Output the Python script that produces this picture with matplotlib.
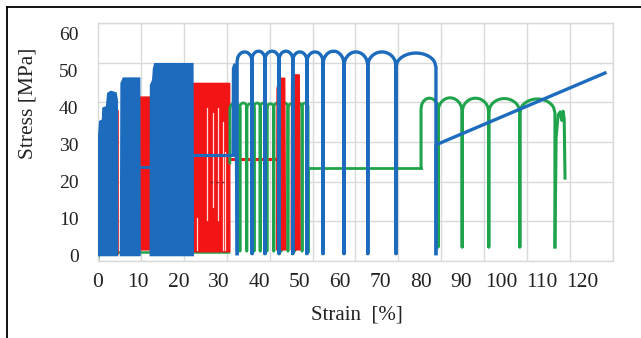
import numpy as np
import matplotlib
matplotlib.use("Agg")
import matplotlib.pyplot as plt
from matplotlib.lines import Line2D

# ---------------- data (strain %, stress MPa) ----------------
x_tick_values = [0, 10, 20, 30, 40, 50, 60, 70, 80, 90, 100, 110, 120]
y_tick_values = [0, 10, 20, 30, 40, 50, 60]

# dense cyclic blocks (outlines)
blue_block1_x = [0.0, 0.05, 0.45, 1.15, 1.25, 2.15, 2.45, 3.2, 4.45, 4.75, 4.8]
blue_block1_y = [0.0, 30.0, 36.2, 36.6, 39.8, 40.2, 43.8, 44.3, 43.9, 42.0, 0.0]
blue_block2_x = [5.6, 5.75, 6.3, 10.3, 10.4]
blue_block2_y = [0.0, 46.5, 47.9, 47.9, 0.0]
blue_block3_x = [13.0, 13.05, 13.6, 13.8, 14.1, 23.5, 23.6]
blue_block3_y = [0.0, 46.0, 47.4, 50.5, 51.8, 51.8, 0.0]

red_block1_x = [10.4, 10.45, 13.05, 13.1]
red_block1_y = [1.5, 42.8, 42.8, 1.5]
red_block2_x = [23.6, 23.65, 32.65, 32.7]
red_block2_y = [1.0, 46.5, 46.5, 1.0]
red_spike1_x = [44.3, 44.4, 44.9, 46.3, 46.5]
red_spike1_y = [1.5, 45.0, 47.9, 47.9, 1.5]
red_spike2_x = [47.9, 48.0, 48.5, 49.9, 50.1]
red_spike2_y = [1.5, 46.0, 48.8, 48.8, 1.5]
red_gap_x = [24.5, 27.0, 28.4, 29.7, 30.9, 31.5]
red_gap_bottom = [1.5, 9.6, 13.0, 9.6, 1.5, 1.5]
red_gap_top = [10.0, 39.8, 38.5, 39.8, 36.0, 28.0]
red_thin_x = [5.0, 5.0]
red_thin_y = [0.5, 39.0]
red_level_x = [32.7, 43.9]
red_level_y = [26.2, 26.2]
red_dark_x = [27.8, 31.3]
red_dark_y = [19.9, 19.9]

# blue connectors and large loops
blue_link1_x = [10.4, 13.1]
blue_link1_y = [23.9, 23.9]
blue_link2_x = [23.6, 33.5]
blue_link2_y = [27.2, 27.2]
blue_stub_x = [33.5, 33.6, 33.9, 34.2, 34.5]
blue_stub_y = [27.2, 50.5, 51.5, 50.0, 0.5]
blue_valleys = [34.5, 38.2, 41.4, 44.9, 48.3, 51.8, 55.8, 61.0, 66.9, 73.9, 83.8]
blue_peaks = [55.0, 55.2, 55.2, 55.2, 55.0, 55.0, 55.2, 55.0, 55.0, 54.7]
blue_valley_level = 0.5
blue_tail_x = [83.8, 83.8, 125.7]
blue_tail_y = [0.5, 29.9, 49.3]

# green series
green_base_x = [0.0, 0.3, 32.5]
green_base_y = [-1.3, 0.8, 0.8]
green_dense_valleys = [32.7, 35.2, 36.9, 38.7, 40.2, 41.9, 43.6, 45.4, 47.1, 48.8, 50.6, 52.1]
green_dense_peaks = [41.2, 41.2, 41.0, 41.2, 41.2, 41.0, 41.2, 41.2, 41.0, 41.2, 41.2]
green_dense_start_level = 25.0
green_dense_valley_level = 1.2
green_level_x = [52.1, 52.1, 80.1]
green_level_y = [1.2, 23.6, 23.6]
green_valleys = [80.1, 84.3, 90.3, 96.9, 104.6, 113.3]
green_peaks = [42.5, 42.6, 42.5, 42.4, 42.3]
green_start_level = 23.6
green_valley_level = 2.3
green_end_x = [113.3, 113.6, 114.1, 114.6, 115.0, 115.3, 115.6, 115.8]
green_end_y = [2.3, 32.0, 38.0, 38.8, 36.5, 39.0, 37.0, 20.9]

# ---------------- styling ----------------
BLUE = "#1c6bbd"
RED = "#f31515"
GREEN = "#1fa34b"
GRIDC = "#d9d9d9"
SERIF = ["Liberation Serif", "DejaVu Serif"]
PX_PER_X = 4.033   # screen pixels per strain unit
PX_PER_Y = 3.7     # screen pixels per stress unit


def loops(valleys, peaks, base, first_base=None, n=31):
    """Inverted-U loops between successive valleys (vertical sides, rounded top)."""
    xs, ys = [], []
    t = np.linspace(0.0, 1.0, n)
    for i in range(len(valleys) - 1):
        x0, x1 = valleys[i], valleys[i + 1]
        b0 = first_base if (i == 0 and first_base is not None) else base
        half_px = 0.5 * (x1 - x0) * PX_PER_X
        depth = min(1.25 * half_px, 14.0) / PX_PER_Y
        arc = peaks[i] - depth + depth * np.sqrt(np.clip(1 - (2 * t - 1) ** 2, 0, 1))
        xs.extend([x0] + list(x0 + t * (x1 - x0)) + [x1])
        ys.extend([b0] + list(arc) + [base])
    return xs, ys


fig = plt.figure(figsize=(6.41, 3.38), dpi=100)
ax = fig.add_axes([98 / 641, 1 - 261 / 338, 515 / 641, 238 / 338])
ax.set_xlim(0, 127.7)
ax.set_ylim(-1.5, 62.8)

# grid (drawn at the picture's own grid spacing)
ax.set_xticks(np.arange(13) * 10.64, minor=True)
ax.set_yticks(-1.5 + np.arange(7) * 10.72, minor=True)
ax.grid(which="minor", color=GRIDC, lw=1.0, zorder=0)
ax.grid(which="major", visible=False)
ax.set_axisbelow(True)
for s in ax.spines.values():
    s.set_color(GRIDC)
    s.set_linewidth(1.0)

ax.set_xticks(x_tick_values)
ax.set_xticklabels([str(v) for v in x_tick_values], family=SERIF, fontsize=15.5)
ax.set_yticks(y_tick_values)
ax.set_yticklabels([str(v) for v in y_tick_values], family=SERIF, fontsize=14)
ax.tick_params(which="both", length=0)
ax.tick_params(axis="x", pad=8.5, colors="#222222")
ax.tick_params(axis="y", pad=14, colors="#222222")

# green baseline (mostly hidden)
ax.plot(green_base_x, green_base_y, color=GREEN, lw=1.8, zorder=1.5)

# red blocks
for bx, by in [(red_block1_x, red_block1_y), (red_block2_x, red_block2_y)]:
    ax.fill(bx, by, facecolor=RED, edgecolor=RED, lw=1.0, zorder=2)
for gx, gb, gt in zip(red_gap_x, red_gap_bottom, red_gap_top):
    ax.plot([gx, gx], [gb, gt], color="white", lw=0.9, alpha=0.85, zorder=2.1)
ax.plot(red_dark_x, red_dark_y, color="#8a2020", lw=1.0, ls=(0, (2, 2)), zorder=2.2)
ax.plot(red_thin_x, red_thin_y, color=RED, lw=1.2, zorder=2)
ax.plot(red_level_x, red_level_y, color=RED, lw=2.2, zorder=2)

# green dense cycles + level + large loops
gx, gy = loops(green_dense_valleys, green_dense_peaks, green_dense_valley_level,
               first_base=green_dense_start_level)
ax.plot(gx, gy, color=GREEN, lw=2.0, zorder=3)
ax.plot(green_level_x, green_level_y, color=GREEN, lw=2.0, zorder=3)
gx2, gy2 = loops(green_valleys, green_peaks, green_valley_level,
                 first_base=green_start_level)
ax.plot(gx2, gy2, color=GREEN, lw=2.2, zorder=3)
ax.plot(green_end_x, green_end_y, color=GREEN, lw=2.2, zorder=3)

# red spikes over green
for bx, by in [(red_spike1_x, red_spike1_y), (red_spike2_x, red_spike2_y)]:
    ax.fill(bx, by, facecolor=RED, edgecolor=RED, lw=1.0, zorder=3.5)

# blue
for bx, by in [(blue_block1_x, blue_block1_y), (blue_block2_x, blue_block2_y),
               (blue_block3_x, blue_block3_y)]:
    ax.fill(bx, by, facecolor=BLUE, edgecolor=BLUE, lw=1.2, zorder=4)
ax.plot(blue_link1_x, blue_link1_y, color=BLUE, lw=2.0, zorder=4)
ax.plot(blue_link2_x, blue_link2_y, color=BLUE, lw=2.2, zorder=4)
ax.plot(blue_stub_x, blue_stub_y, color=BLUE, lw=2.4, zorder=4)
bx, by = loops(blue_valleys, blue_peaks, blue_valley_level)
ax.plot(bx, by, color=BLUE, lw=2.4, zorder=4, solid_joinstyle="round")
ax.plot(blue_tail_x, blue_tail_y, color=BLUE, lw=2.4, zorder=4)

# axis titles
fig.text(28 / 641, 1 - 103 / 338, "Stress [MPa]", rotation=90, ha="center", va="center",
         family=SERIF, fontsize=15.5, color="#222222")
fig.text(357 / 641, 1 - 315 / 338, "Strain  [%]", ha="center", va="center",
         family=SERIF, fontsize=15, color="#222222")

# outer frame lines (top and left)
fig.add_artist(Line2D([7 / 641, 1.0], [1 - 7 / 338, 1 - 7 / 338],
                      transform=fig.transFigure, color="black", lw=1.3))
fig.add_artist(Line2D([7 / 641, 7 / 641], [0.0, 1 - 7 / 338],
                      transform=fig.transFigure, color="black", lw=1.3))

fig.savefig("out.png", dpi=100)
